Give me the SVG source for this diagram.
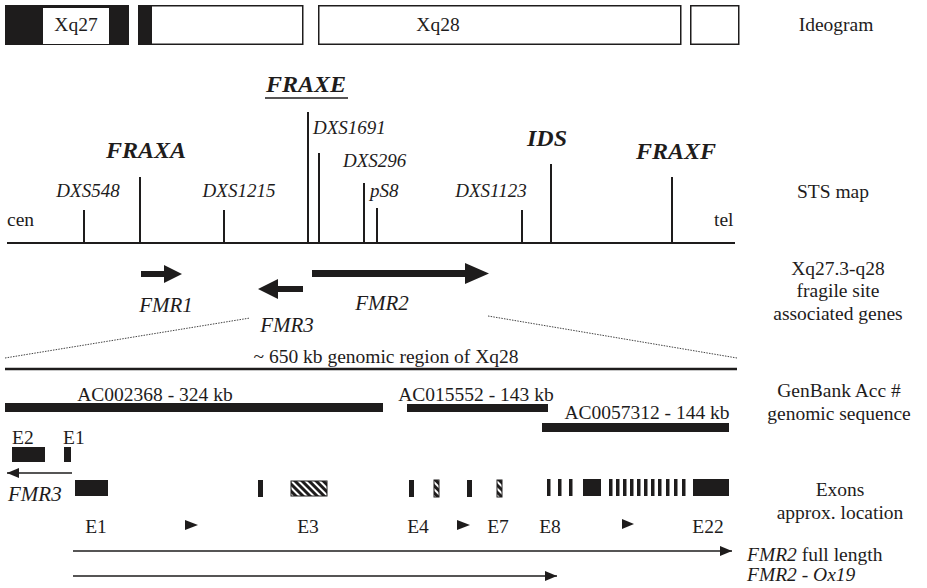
<svg xmlns="http://www.w3.org/2000/svg" width="927" height="588" viewBox="0 0 927 588">
<defs>
<style>
text{fill:#1e1c1c}
.lab{font-size:19.5px;text-anchor:middle}
.mid{text-anchor:middle}
.it{font-style:italic}
.bi{font-style:italic;font-weight:bold}
.sts{font-size:19px;font-style:italic}
.gene{font-size:21px;font-style:italic}
.n19{font-size:19.5px}
.tick{stroke:#1e1c1c;stroke-width:2}
.blk{fill:#1e1c1c}
.box{fill:#fff;stroke:#1e1c1c;stroke-width:1.5}
.thin{stroke:#1e1c1c;stroke-width:1.6;fill:none}
.dot{stroke:#444;stroke-width:1;stroke-dasharray:1.5 1.2;fill:none}
</style>
<pattern id="hatch" width="5" height="5" patternUnits="userSpaceOnUse" patternTransform="rotate(-45)">
<rect width="5" height="5" fill="#1e1c1c"/><rect width="2" height="5" fill="#fff"/>
</pattern>
<marker id="ah" markerWidth="12" markerHeight="10" refX="12" refY="5" orient="auto" markerUnits="userSpaceOnUse">
<path d="M0,0 L12,5 L0,10 z" fill="#1e1c1c"/>
</marker>
</defs>
<rect width="927" height="588" fill="#fff"/>
<g id="ideogram">
<rect x="5" y="5" width="124" height="40" class="blk"/>
<rect x="43" y="8" width="66" height="36" fill="#fff"/>
<text font-family="Liberation Serif" x="76" y="31" class="mid n19">Xq27</text>
<rect x="138.75" y="5.75" width="164" height="38.5" class="box"/>
<rect x="138" y="5" width="14" height="40" class="blk"/>
<rect x="318.75" y="5.75" width="362" height="38.5" class="box"/>
<text font-family="Liberation Serif" x="438" y="31" class="mid n19">Xq28</text>
<rect x="690.75" y="5.75" width="48" height="38.5" class="box"/>
<text font-family="Liberation Serif" x="836" y="31" class="lab">Ideogram</text>
</g>

<g id="sts-map">
<line x1="7" y1="243" x2="735" y2="243" stroke="#1e1c1c" stroke-width="2"/>
<text font-family="Liberation Serif" x="7" y="226" class="n19">cen</text>
<text font-family="Liberation Serif" x="714" y="226" class="n19">tel</text>
<line x1="84" y1="210" x2="84" y2="243" class="tick"/>
<text font-family="Liberation Serif" x="88" y="197" class="sts mid">DXS548</text>
<line x1="140" y1="177" x2="140" y2="243" class="tick"/>
<text font-family="Liberation Serif" x="146" y="158" class="bi mid" font-size="24">FRAXA</text>
<line x1="224" y1="210" x2="224" y2="243" class="tick"/>
<text font-family="Liberation Serif" x="239" y="197" class="sts mid">DXS1215</text>
<line x1="308" y1="112" x2="308" y2="243" class="tick"/>
<text font-family="Liberation Serif" x="306" y="92" class="bi mid" font-size="24">FRAXE</text>
<line x1="265" y1="98" x2="348" y2="98" stroke="#1e1c1c" stroke-width="1.5"/>
<text font-family="Liberation Serif" x="313" y="134" class="sts">DXS1691</text>
<line x1="319" y1="153" x2="319" y2="243" class="tick"/>
<text font-family="Liberation Serif" x="343" y="167" class="sts">DXS296</text>
<line x1="364" y1="183" x2="364" y2="243" class="tick"/>
<text font-family="Liberation Serif" x="370" y="197" class="sts">pS8</text>
<line x1="377" y1="208" x2="377" y2="243" class="tick"/>
<text font-family="Liberation Serif" x="491" y="197" class="sts mid">DXS1123</text>
<line x1="522" y1="210" x2="522" y2="243" class="tick"/>
<text font-family="Liberation Serif" x="547" y="146" class="bi mid" font-size="24">IDS</text>
<line x1="551" y1="164" x2="551" y2="243" class="tick"/>
<text font-family="Liberation Serif" x="676" y="159" class="bi mid" font-size="24">FRAXF</text>
<line x1="672" y1="177" x2="672" y2="243" class="tick"/>
<text font-family="Liberation Serif" x="833" y="198" class="lab">STS map</text>
</g>

<g id="genes">
<polygon points="141,271 164,271 164,265 182,274 164,283 164,277 141,277" class="blk"/>
<text font-family="Liberation Serif" x="166" y="312" class="gene mid">FMR1</text>
<polygon points="303,286 278,286 278,279 258,289 278,299 278,292 303,292" class="blk"/>
<text font-family="Liberation Serif" x="287" y="332" class="gene mid">FMR3</text>
<polygon points="312,270 465,270 465,263 489,273.5 465,284 465,277 312,277" class="blk"/>
<text font-family="Liberation Serif" x="382" y="310" class="gene mid">FMR2</text>
<text font-family="Liberation Serif" x="838" y="275" class="lab">Xq27.3-q28</text>
<text font-family="Liberation Serif" x="838" y="297" class="lab">fragile site</text>
<text font-family="Liberation Serif" x="838" y="320" class="lab">associated genes</text>
</g>

<g id="region">
<text font-family="Liberation Serif" x="386" y="363" class="mid n19">~ 650 kb genomic region of Xq28</text>
<line x1="5" y1="369" x2="737" y2="369" stroke="#1e1c1c" stroke-width="2.5"/>
</g>

<g id="genbank">
<text font-family="Liberation Serif" x="155" y="401" class="mid n19">AC002368 - 324 kb</text>
<rect x="5" y="403" width="378" height="9" class="blk"/>
<text font-family="Liberation Serif" x="476" y="401" class="mid n19">AC015552 - 143 kb</text>
<rect x="407" y="404" width="141" height="8" class="blk"/>
<text font-family="Liberation Serif" x="647" y="419" class="mid n19">AC0057312 - 144 kb</text>
<rect x="542" y="423" width="187" height="9" class="blk"/>
<text font-family="Liberation Serif" x="839" y="397" class="lab">GenBank Acc #</text>
<text font-family="Liberation Serif" x="839" y="420" class="lab">genomic sequence</text>
</g>

<g id="fmr3-exons">
<text font-family="Liberation Serif" x="12" y="444" class="n19">E2</text>
<text font-family="Liberation Serif" x="63" y="444" class="n19">E1</text>
<rect x="12" y="447" width="33" height="15" class="blk"/>
<rect x="64" y="447" width="7" height="15" class="blk"/>
<text font-family="Liberation Serif" x="8" y="501" class="gene">FMR3</text>
</g>

<g id="fmr2-exons">
<rect x="75" y="480" width="33" height="16" class="blk"/>
<rect x="258" y="480" width="5" height="17" class="blk"/>
<rect x="291" y="481" width="36" height="15" fill="url(#hatch)" stroke="#1e1c1c" stroke-width="1"/>
<rect x="409" y="480" width="5" height="17" class="blk"/>
<rect x="434" y="480" width="5" height="17" fill="url(#hatch)" stroke="#1e1c1c" stroke-width="1"/>
<rect x="467" y="480" width="5" height="17" class="blk"/>
<rect x="497" y="480" width="5" height="17" fill="url(#hatch)" stroke="#1e1c1c" stroke-width="1"/>
<rect x="547" y="479" width="3.5" height="17" class="blk"/>
<rect x="558" y="479" width="3.5" height="17" class="blk"/>
<rect x="569" y="479" width="3.5" height="17" class="blk"/>
<rect x="583" y="479" width="18" height="17" class="blk"/>
<rect x="609" y="479" width="3.5" height="17" class="blk"/>
<rect x="616" y="479" width="3.5" height="17" class="blk"/>
<rect x="623" y="479" width="3.5" height="17" class="blk"/>
<rect x="630" y="479" width="3.5" height="17" class="blk"/>
<rect x="637" y="479" width="3.5" height="17" class="blk"/>
<rect x="644" y="479" width="3.5" height="17" class="blk"/>
<rect x="651" y="479" width="3.5" height="17" class="blk"/>
<rect x="658" y="479" width="3.5" height="17" class="blk"/>
<rect x="666" y="479" width="3.5" height="17" class="blk"/>
<rect x="674" y="479" width="3.5" height="17" class="blk"/>
<rect x="682" y="479" width="3.5" height="17" class="blk"/>
<rect x="693" y="479" width="36" height="17" class="blk"/>
<text font-family="Liberation Serif" x="96" y="533" class="mid n19">E1</text>
<polygon points="185,520 198,525 185,530" class="blk"/>
<text font-family="Liberation Serif" x="308" y="533" class="mid n19">E3</text>
<text font-family="Liberation Serif" x="418" y="533" class="mid n19">E4</text>
<polygon points="457,520 470,525 457,530" class="blk"/>
<text font-family="Liberation Serif" x="498" y="533" class="mid n19">E7</text>
<text font-family="Liberation Serif" x="550" y="533" class="mid n19">E8</text>
<polygon points="622,519 634,524 622,529" class="blk"/>
<text font-family="Liberation Serif" x="708" y="533" class="mid n19">E22</text>
<text font-family="Liberation Serif" x="840" y="496" class="lab">Exons</text>
<text font-family="Liberation Serif" x="840" y="519" class="lab">approx. location</text>
</g>

<g id="transcripts">
<text font-family="Liberation Serif" x="747" y="561" class="n19"><tspan font-style="italic">FMR2</tspan> full length</text>
<text font-family="Liberation Serif" x="747" y="581" class="n19 it">FMR2 - Ox19</text>
</g>

<g id="connectors">
<line x1="5" y1="358" x2="250" y2="318" class="dot"/>
<line x1="488" y1="316" x2="737" y2="358" class="dot"/>
<line x1="72" y1="473" x2="7" y2="473" class="thin" marker-end="url(#ah)"/>
<line x1="73" y1="551" x2="732" y2="551" class="thin" marker-end="url(#ah)"/>
<line x1="73" y1="576" x2="557" y2="576" class="thin" marker-end="url(#ah)"/>
</g>
</svg>
